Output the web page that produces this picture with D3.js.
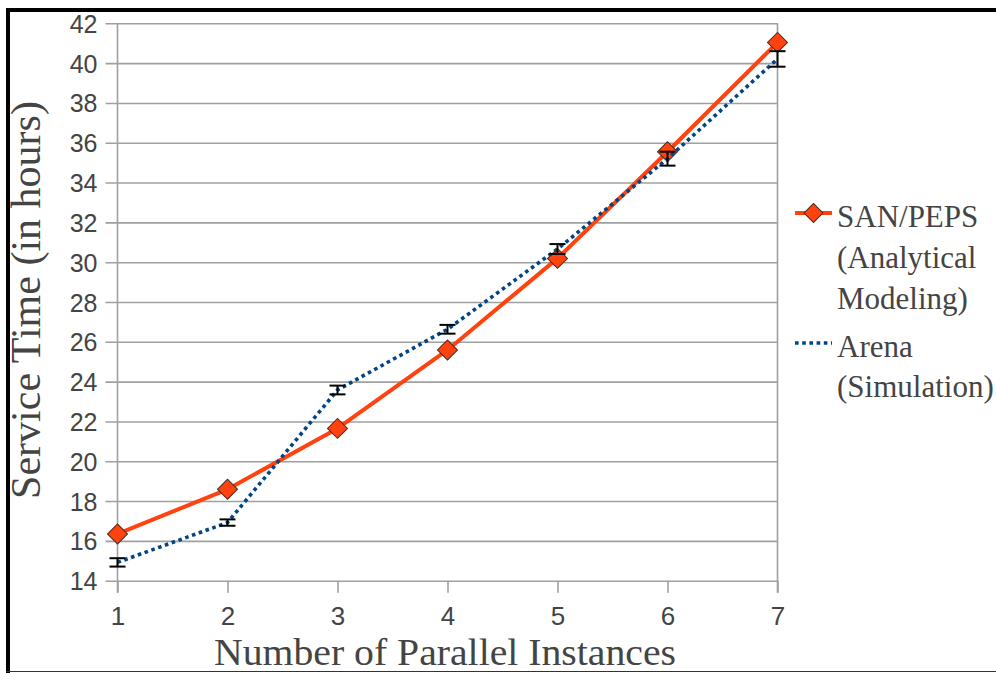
<!DOCTYPE html>
<html>
<head>
<meta charset="utf-8">
<script src="https://cdn.jsdelivr.net/npm/d3@7"></script>
<style>
  html, body { margin: 0; padding: 0; background: #fff; }
  svg { display: block; }
</style>
</head>
<body>
<svg id="chart" width="996" height="673"></svg>
<script>
// ---- data ----
const instances = [1, 2, 3, 4, 5, 6, 7];
const sanPeps = [16.35, 18.59, 21.65, 25.59, 30.19, 35.55, 41.04];
const arena = [14.92, 16.92, 23.58, 26.63, 30.66, 35.2, 40.21];
const arenaErr = [0.21, 0.16, 0.22, 0.22, 0.25, 0.35, 0.39];
const yTicks = [14, 16, 18, 20, 22, 24, 26, 28, 30, 32, 34, 36, 38, 40, 42];
const xTicks = [1, 2, 3, 4, 5, 6, 7];
const seriesNames = [["SAN/PEPS", "(Analytical", "Modeling)"], ["Arena", "(Simulation)"]];
const xTitle = "Number of Parallel Instances";
const yTitle = "Service Time (in hours)";

const svg = d3.select("#chart");
const W = 996, H = 673;
const x = d3.scaleLinear().domain([1, 7]).range([117.5, 777.5]);
const y = d3.scaleLinear().domain([14, 42]).range([580.7, 23.3]);

const grid = "#a0a0a0";
const textCol = "#444";
const orange = "#ff420e";
const blue = "#004586";
const serif = "'Liberation Serif', 'Times New Roman', Times, serif";
const sans = "'Liberation Sans', Arial, sans-serif";

// frame
svg.append("rect").attr("x", 6).attr("y", 8).attr("width", W - 6).attr("height", 4).attr("fill", "#000");
svg.append("rect").attr("x", 6).attr("y", 8).attr("width", 4).attr("height", H - 8).attr("fill", "#000");
svg.append("line").attr("x1", 6).attr("x2", W).attr("y1", 671.5).attr("y2", 671.5).attr("stroke", "#333").attr("stroke-width", 1);

// y axis with gridlines
const yAxis = d3.axisLeft(y).tickValues(yTicks).tickSize(12).tickPadding(0).tickFormat(d3.format("d"));
const gy = svg.append("g").attr("transform", `translate(${x(1)},0)`).call(yAxis);
gy.select(".domain").attr("stroke", grid).attr("stroke-width", 1.6)
  .attr("d", `M0,${y(42)}V${y(14) + 12}`);
gy.selectAll(".tick line").attr("stroke", grid).attr("stroke-width", 1.6)
  .attr("x1", -12).attr("x2", x(7) - x(1));
gy.selectAll(".tick text")
  .attr("x", -20).attr("dy", "0.36em")
  .attr("fill", textCol)
  .attr("font-family", sans)
  .attr("font-size", 25);

// x axis
const xAxis = d3.axisBottom(x).tickValues(xTicks).tickSize(12).tickFormat(d3.format("d"));
const gx = svg.append("g").attr("transform", `translate(0,${y(14)})`).call(xAxis);
gx.select(".domain").remove();
gx.selectAll(".tick line").attr("stroke", grid).attr("stroke-width", 1.6);
gx.selectAll(".tick text")
  .attr("y", 44).attr("dy", 0)
  .attr("fill", textCol)
  .attr("font-family", sans)
  .attr("font-size", 26);

// right border of plot
svg.append("line").attr("x1", x(7)).attr("x2", x(7)).attr("y1", y(42)).attr("y2", y(14) + 12)
  .attr("stroke", grid).attr("stroke-width", 1.6);

// SAN/PEPS line
const lineFn = d3.line().x((d, i) => x(instances[i])).y(d => y(d));
svg.append("path").datum(sanPeps).attr("d", lineFn)
  .attr("fill", "none").attr("stroke", orange).attr("stroke-width", 4).attr("stroke-linejoin", "round");

const diamond = d3.symbol().type(d3.symbolSquare).size(200);
svg.append("g").selectAll("path").data(sanPeps).join("path")
  .attr("d", diamond)
  .attr("transform", (d, i) => `translate(${x(instances[i])},${y(d)}) rotate(45)`)
  .attr("fill", orange).attr("stroke", "#4a2a20").attr("stroke-width", 1);

// Arena line
svg.append("path").datum(arena).attr("d", lineFn)
  .attr("fill", "none").attr("stroke", blue).attr("stroke-width", 3.6)
  .attr("stroke-dasharray", "3.6,3.6");

// error bars
const eb = svg.append("g").attr("stroke", "#000").attr("stroke-width", 2);
arena.forEach((v, i) => {
  const cx = x(instances[i]);
  const y1 = y(v + arenaErr[i]), y2 = y(v - arenaErr[i]);
  eb.append("line").attr("x1", cx).attr("x2", cx).attr("y1", y1).attr("y2", y2);
  eb.append("line").attr("x1", cx - 8).attr("x2", cx + 8).attr("y1", y1).attr("y2", y1);
  eb.append("line").attr("x1", cx - 8).attr("x2", cx + 8).attr("y1", y2).attr("y2", y2);
});

// axis titles
svg.append("text").attr("x", 445).attr("y", 664.5).attr("text-anchor", "middle")
  .attr("fill", textCol)
  .attr("font-family", serif).attr("font-size", 38)
  .attr("textLength", 462).attr("lengthAdjust", "spacingAndGlyphs")
  .text(xTitle);
svg.append("text").attr("transform", "translate(40,300) rotate(-90)").attr("text-anchor", "middle")
  .attr("fill", textCol)
  .attr("font-family", serif).attr("font-size", 42)
  .text(yTitle);

// legend
const lg = svg.append("g");
lg.append("line").attr("x1", 795).attr("x2", 832).attr("y1", 213).attr("y2", 213)
  .attr("stroke", orange).attr("stroke-width", 4);
lg.append("path").attr("d", d3.symbol().type(d3.symbolSquare).size(180))
  .attr("transform", "translate(813.5,213) rotate(45)")
  .attr("fill", orange).attr("stroke", "#4a2a20").attr("stroke-width", 1);
lg.append("line").attr("x1", 795).attr("x2", 832).attr("y1", 343).attr("y2", 343)
  .attr("stroke", blue).attr("stroke-width", 3.6).attr("stroke-dasharray", "3.6,3.6");

const baselines = [[227, 268, 309], [357, 397]];
seriesNames.forEach((lines, s) => {
  lines.forEach((t, j) => {
    lg.append("text").attr("x", 837).attr("y", baselines[s][j])
      .attr("fill", textCol)
      .attr("font-family", serif).attr("font-size", 31)
      .text(t);
  });
});
</script>
</body>
</html>
